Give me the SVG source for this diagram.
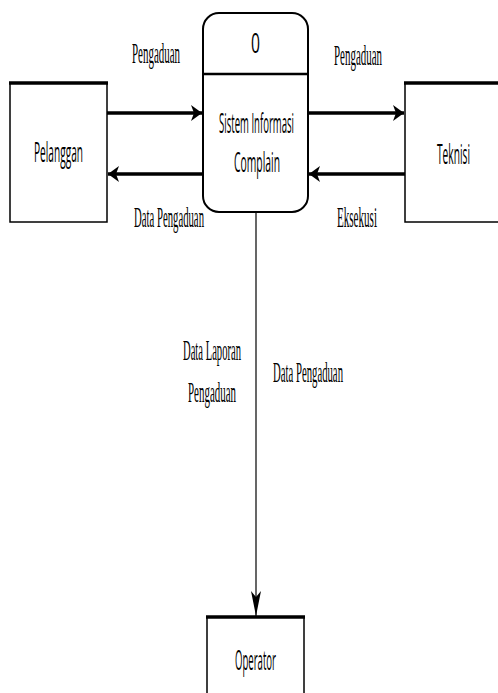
<svg xmlns="http://www.w3.org/2000/svg" width="498" height="693" viewBox="0 0 498 693">
<style>
.box{fill:#fff;stroke:#000;stroke-width:1.5}
.top{stroke:#000;stroke-width:3.5}
.proc{fill:#fff;stroke:#000;stroke-width:2}
.sans{font-family:"Open Sans","Liberation Sans",sans-serif;font-size:28px;fill:#000}
.serif{font-family:"Liberation Serif","Times New Roman",serif;font-size:30px;fill:#000}
.flow{stroke:#000;stroke-width:3.5;fill:none}
.thin{stroke:#000;stroke-width:1.2;fill:none}
</style>
<defs>
<marker id="ah" markerUnits="userSpaceOnUse" markerWidth="12" markerHeight="16" refX="11" refY="8" orient="auto">
<path d="M0,0 L11,8 L0,16 L3,8 Z" fill="#000"/>
</marker>
<marker id="ahs" markerUnits="userSpaceOnUse" markerWidth="26" markerHeight="10" refX="25" refY="5" orient="auto">
<path d="M0,0 L25,5 L0,10 L6,5 Z" fill="#000"/>
</marker>
</defs>
<g id="pelanggan">
<rect class="box" x="10" y="83" width="97" height="139"/>
<line class="top" x1="9" y1="83" x2="108" y2="83"/>
<text class="sans" x="34" y="162" textLength="49" lengthAdjust="spacingAndGlyphs">Pelanggan</text>
</g>
<g id="teknisi">
<rect class="box" x="405" y="83" width="100" height="139"/>
<line class="top" x1="404" y1="83" x2="500" y2="83"/>
<text class="sans" x="437" y="164" textLength="33" lengthAdjust="spacingAndGlyphs">Teknisi</text>
</g>
<g id="process">
<rect class="proc" x="203" y="13" width="105" height="199" rx="16" ry="16"/>
<line x1="203" y1="74" x2="308" y2="74" stroke="#000" stroke-width="2.5"/>
<text class="sans" x="251" y="53" textLength="9" lengthAdjust="spacingAndGlyphs">0</text>
<text class="sans" x="219" y="133" textLength="75" lengthAdjust="spacingAndGlyphs">Sistem Informasi</text>
<text class="sans" x="234" y="172" textLength="46" lengthAdjust="spacingAndGlyphs">Complain</text>
</g>
<g id="operator">
<rect class="box" x="207" y="617" width="97" height="90"/>
<line class="top" x1="206" y1="617" x2="305" y2="617"/>
<text class="sans" x="235" y="670" textLength="41" lengthAdjust="spacingAndGlyphs">Operator</text>
</g>
<g id="connectors">
<line class="flow" x1="107" y1="113" x2="202" y2="113" marker-end="url(#ah)"/>
<line class="flow" x1="203" y1="174" x2="108" y2="174" marker-end="url(#ah)"/>
<line class="flow" x1="308" y1="113" x2="404" y2="113" marker-end="url(#ah)"/>
<line class="flow" x1="405" y1="174" x2="309" y2="174" marker-end="url(#ah)"/>
<line class="thin" x1="256" y1="212" x2="256" y2="616" marker-end="url(#ahs)"/>
</g>
<g id="labels">
<text class="serif" x="132" y="63" textLength="48" lengthAdjust="spacingAndGlyphs">Pengaduan</text>
<text class="serif" x="334" y="65" textLength="48" lengthAdjust="spacingAndGlyphs">Pengaduan</text>
<text class="serif" x="134" y="227" textLength="70" lengthAdjust="spacingAndGlyphs">Data Pengaduan</text>
<text class="serif" x="337" y="227" textLength="40" lengthAdjust="spacingAndGlyphs">Eksekusi</text>
<text class="serif" x="183" y="360" textLength="58" lengthAdjust="spacingAndGlyphs">Data Laporan</text>
<text class="serif" x="188" y="402" textLength="48" lengthAdjust="spacingAndGlyphs">Pengaduan</text>
<text class="serif" x="273" y="382" textLength="70" lengthAdjust="spacingAndGlyphs">Data Pengaduan</text>
</g>
</svg>
